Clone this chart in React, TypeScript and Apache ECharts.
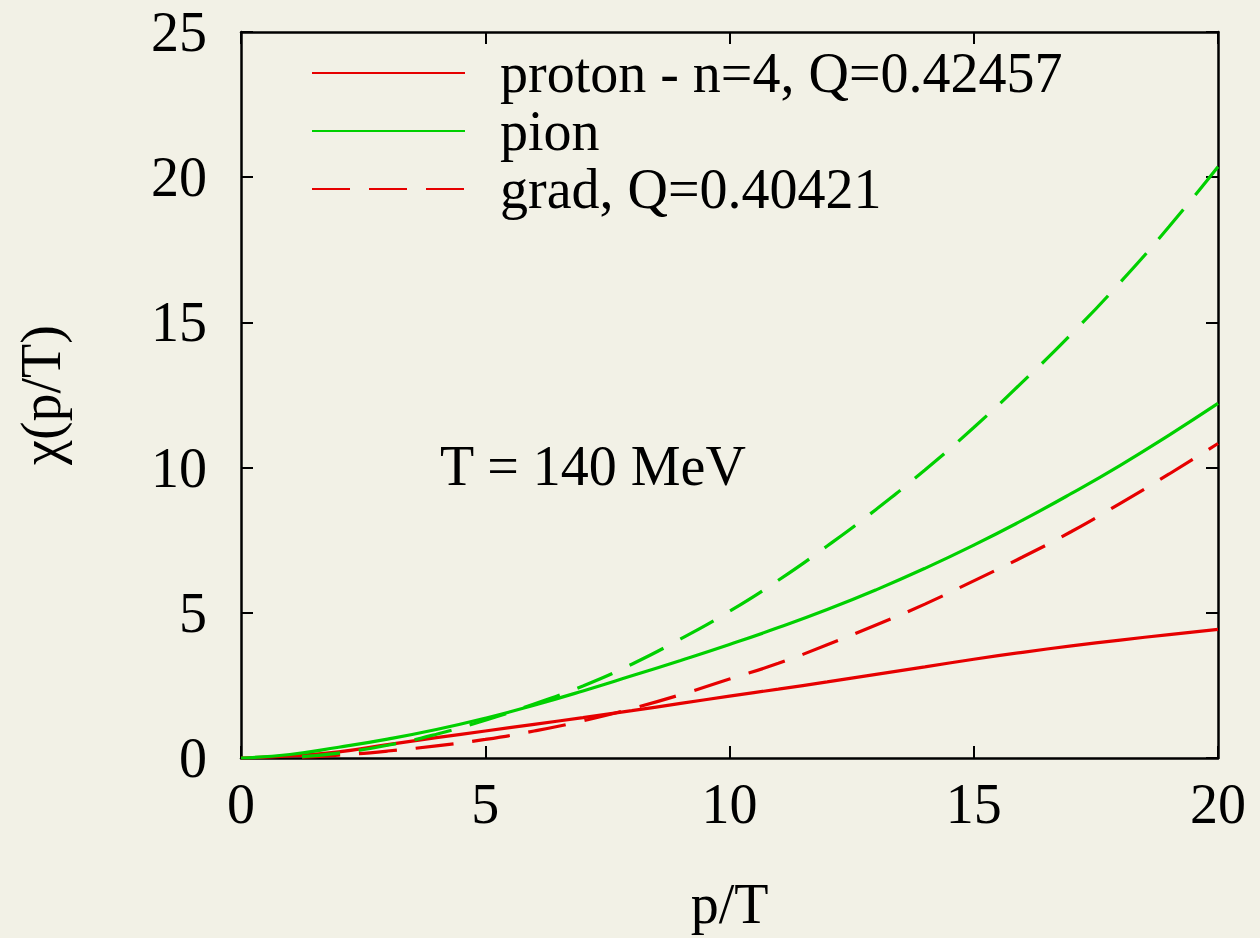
import React, { useEffect, useRef } from "react";
import * as echarts from "echarts";

const xTicks = [0, 5, 10, 15, 20];
const yTicks = [0, 5, 10, 15, 20, 25];

const xs = [0, 1, 2, 3, 4, 5, 6, 7, 8, 9, 10, 11, 12, 13, 14, 15, 16, 17, 18, 19, 20];
const protonVals = [0, 0.07, 0.21, 0.46, 0.7, 0.93, 1.16, 1.39, 1.63, 1.88, 2.13, 2.37, 2.62, 2.88, 3.14, 3.4, 3.64, 3.86, 4.06, 4.25, 4.43];
const pionVals = [0, 0.12, 0.37, 0.65, 0.98, 1.37, 1.82, 2.31, 2.83, 3.36, 3.91, 4.49, 5.11, 5.79, 6.53, 7.33, 8.19, 9.11, 10.08, 11.12, 12.21];

const xsGrad = [1.25, 2, 3, 4, 5, 6, 7, 8, 9, 10, 11, 12, 13, 14, 15, 16, 17, 18, 19, 20];
const gradProtonVals = [0.03, 0.1, 0.24, 0.42, 0.64, 0.93, 1.28, 1.7, 2.18, 2.72, 3.26, 3.9, 4.58, 5.3, 6.1, 6.92, 7.8, 8.77, 9.78, 10.83];
const gradPionVals = [0.05, 0.17, 0.44, 0.82, 1.3, 1.86, 2.48, 3.23, 4.1, 5.05, 6.12, 7.3, 8.56, 9.92, 11.38, 12.95, 14.6, 16.38, 18.3, 20.36];

const legendNames = ["proton - n=4, Q=0.42457", "pion", "grad, Q=0.40421"];

const RED = "#e60000";
const GREEN = "#00d000";
const FONT = "'Liberation Serif', 'Times New Roman', serif";

function pairs(x: number[], y: number[]) {
  return x.map((v, i) => [v, y[i]]);
}

export default function App() {
  const ref = useRef<HTMLDivElement>(null);
  useEffect(() => {
    if (!ref.current) return;
    const chart = echarts.init(ref.current, null, { renderer: "svg" });
    const axisCommon = {
      type: "value" as const,
      min: 0,
      interval: 5,
      axisLine: { show: true, onZero: false, lineStyle: { color: "#000", width: 2.5 } },
      axisTick: { show: true, inside: true, length: 12, lineStyle: { color: "#000", width: 2 } },
      splitLine: { show: false },
    };
    chart.setOption({
      animation: false,
      backgroundColor: "#f2f1e6",
      textStyle: { fontFamily: FONT },
      grid: { left: 241, right: 42, top: 32, bottom: 180, containLabel: false },
      legend: {
        data: legendNames,
        orient: "vertical",
        left: 306,
        top: 39,
        itemWidth: 153,
        itemHeight: 20,
        itemGap: 0,
        selectedMode: false,
        itemStyle: { opacity: 0, borderWidth: 0 },
        textStyle: { fontSize: 56, fontFamily: FONT, color: "#000", lineHeight: 58, padding: [0, 0, 0, 30] },
      },
      xAxis: [
        {
          ...axisCommon,
          max: 20,
          position: "bottom",
          name: "p/T",
          nameLocation: "middle",
          nameGap: 118,
          nameTextStyle: { fontSize: 56, fontFamily: FONT, color: "#000" },
          axisLabel: { fontSize: 56, fontFamily: FONT, color: "#000", margin: 18, customValues: xTicks },
        },
        {
          ...axisCommon,
          max: 20,
          position: "top",
          axisLabel: { show: false },
        },
      ],
      yAxis: [
        {
          ...axisCommon,
          max: 25,
          position: "left",
          name: "χ(p/T)",
          nameLocation: "middle",
          nameGap: 172,
          nameRotate: 90,
          nameTextStyle: { fontSize: 56, fontFamily: FONT, color: "#000" },
          axisLabel: { fontSize: 56, fontFamily: FONT, color: "#000", margin: 34, customValues: yTicks },
        },
        {
          ...axisCommon,
          max: 25,
          position: "right",
          axisLabel: { show: false },
        },
      ],
      graphic: [
        {
          type: "text",
          left: 440,
          top: 438,
          style: { text: "T = 140 MeV", fontSize: 56, fontFamily: FONT, fill: "#000" },
        },
      ],
      series: [
        {
          name: legendNames[0],
          type: "line",
          data: pairs(xs, protonVals),
          smooth: true,
          symbol: "none",
          lineStyle: { color: RED, width: 3.2 },
          itemStyle: { color: RED },
        },
        {
          name: legendNames[1],
          type: "line",
          data: pairs(xs, pionVals),
          smooth: true,
          symbol: "none",
          lineStyle: { color: GREEN, width: 3.2 },
          itemStyle: { color: GREEN },
        },
        {
          name: legendNames[2],
          type: "line",
          data: pairs(xsGrad, gradProtonVals),
          smooth: true,
          symbol: "none",
          lineStyle: { color: RED, width: 3.2, type: [38, 19] },
          itemStyle: { color: RED },
        },
        {
          name: "grad pion",
          type: "line",
          data: pairs(xsGrad, gradPionVals),
          smooth: true,
          symbol: "none",
          lineStyle: { color: GREEN, width: 3.2, type: [38, 19] },
          itemStyle: { color: GREEN },
        },
      ],
    });
    return () => chart.dispose();
  }, []);
  return <div ref={ref} style={{ position: "absolute", left: 0, top: 0, width: 1260, height: 938 }} />;
}
